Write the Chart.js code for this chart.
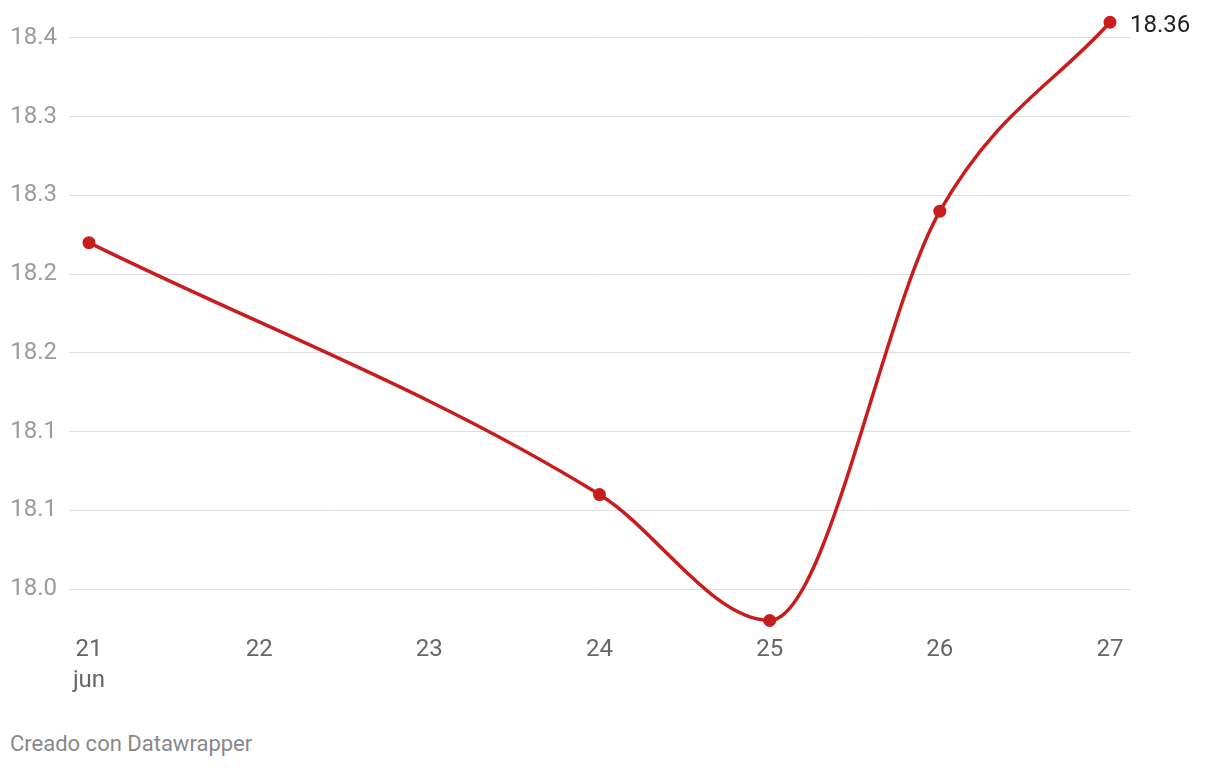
<!DOCTYPE html>
<html>
<head>
<meta charset="utf-8">
<script src="https://cdn.jsdelivr.net/npm/chart.js@4"></script>
<style>
  body { margin: 0; background: #fff; font-family: Roboto, sans-serif; }
  #wrap { position: absolute; left: 0; top: 0; width: 1220px; height: 700px; }
  #credit { position: absolute; left: 10px; top: 731px; font-size: 22px; color: #888; }
</style>
</head>
<body>
<div id="wrap"><canvas id="chart"></canvas></div>
<div id="credit">Creado con Datawrapper</div>
<script>
// data
const days = [21, 24, 25, 26, 27];
const values = [18.22, 18.06, 17.98, 18.24, 18.36];
const dayTicks = [21, 22, 23, 24, 25, 26, 27];
const yTicks = [18.00, 18.05, 18.10, 18.15, 18.20, 18.25, 18.30, 18.35];
const yLabels = ['18.0', '18.1', '18.1', '18.2', '18.2', '18.3', '18.3', '18.4'];
const monthLabel = 'jun';

const red = '#c71e1d';

// label next to the last point
const lastLabel = {
    id: 'lastLabel',
    afterDatasetsDraw(chart) {
        const meta = chart.getDatasetMeta(0);
        const pt = meta.data[meta.data.length - 1];
        const ctx = chart.ctx;
        ctx.save();
        ctx.font = '24px Roboto';
        ctx.fillStyle = '#222';
        ctx.textBaseline = 'middle';
        ctx.fillText(values[values.length - 1].toFixed(2), pt.x + 20, pt.y + 4);
        ctx.restore();
    }
};

const chart = document.querySelector('#chart').getContext('2d');

new Chart(chart, {
    type: 'line',
    data: {
        datasets: [
            {
                data: days.map((d, i) => ({ x: d, y: values[i] })),
                borderColor: red,
                backgroundColor: red,
                borderWidth: 3.5,
                pointRadius: 6.5,
                pointHoverRadius: 6.5,
                pointBorderWidth: 0,
                cubicInterpolationMode: 'monotone',
                clip: false
            }
        ]
    },
    options: {
        responsive: true,
        maintainAspectRatio: false,
        animation: false,
        layout: { padding: { top: 6.51, right: 90, left: 0, bottom: 0 } },
        plugins: { legend: { display: false }, tooltip: { enabled: false } },
        scales: {
            x: {
                type: 'linear',
                min: 20.8825,
                max: 27.1175,
                afterBuildTicks: (s) => { s.ticks = dayTicks.map(v => ({ value: v })); },
                afterFit: (s) => { s.height = 63.77; s.paddingLeft = 0; s.paddingRight = 0; },
                grid: { display: false, drawTicks: false },
                border: { display: false },
                ticks: {
                    autoSkip: false,
                    maxRotation: 0,
                    padding: -2,
                    color: '#666',
                    font: { family: 'Roboto', size: 24, lineHeight: 1.3 },
                    callback: (v) => v === dayTicks[0] ? [String(v), monthLabel] : String(v)
                }
            },
            y: {
                min: 17.97,
                max: 18.37,
                afterBuildTicks: (s) => { s.ticks = yTicks.map(v => ({ value: v })); },
                afterFit: (s) => { s.width = 69; s.paddingTop = 0; s.paddingBottom = 0; },
                grid: { color: '#dedede', lineWidth: 1, drawTicks: false },
                border: { display: false },
                ticks: {
                    padding: 12,
                    color: '#9b9b9b',
                    font: { family: 'Roboto', size: 24 },
                    callback: (v, i) => yLabels[i]
                }
            }
        }
    },
    plugins: [lastLabel]
})
</script>
</body>
</html>
